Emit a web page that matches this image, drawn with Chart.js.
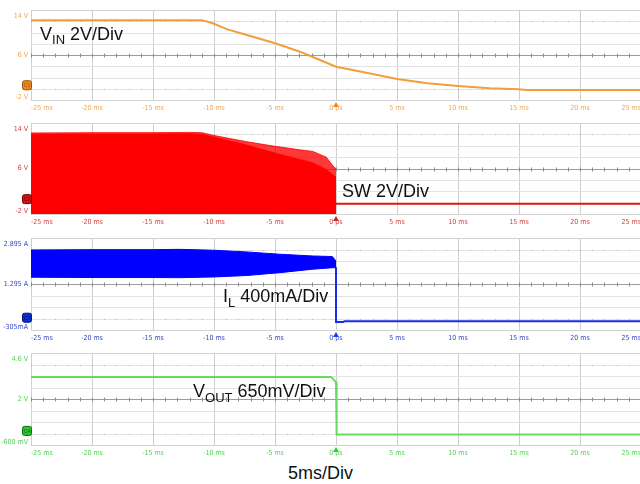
<!DOCTYPE html>
<html>
<head>
<meta charset="utf-8">
<script src="https://cdn.jsdelivr.net/npm/chart.js@4.4.1/dist/chart.umd.min.js"></script>
<style>
  html, body { margin: 0; padding: 0; background: #fff; }
  body { position: relative; width: 640px; height: 484px; overflow: hidden; }
  canvas { position: absolute; left: 0; }
  .lbl { position: absolute; font-family: 'Liberation Sans', Arial, sans-serif; font-size: 18px; line-height: 18px; color: #111; white-space: nowrap; }
  .lbl .s { font-size: 13px; vertical-align: -4px; }
</style>
</head>
<body>
<canvas id="ch1" width="650" height="114"></canvas>
<canvas id="ch2" width="650" height="115"></canvas>
<canvas id="ch3" width="650" height="116"></canvas>
<canvas id="ch4" width="650" height="116"></canvas>

<div class="lbl" style="left:40px;top:25px">V<span class="s">IN</span> 2V/Div</div>
<div class="lbl" style="left:342px;top:182px">SW 2V/Div</div>
<div class="lbl" style="left:223px;top:287px">I<span class="s" style="vertical-align:-5px">L</span> 400mA/Div</div>
<div class="lbl" style="left:193px;top:382px">V<span class="s" style="vertical-align:-5px">OUT</span> 650mV/Div</div>
<div class="lbl" style="left:288px;top:464px">5ms/Div</div>

<script>
// Time base: 5 ms/div, 10 divisions, trigger at 0
const timeTicks = ['-25 ms', '-20 ms', '-15 ms', '-10 ms', '-5 ms', '0 ps', '5 ms', '10 ms', '15 ms', '20 ms', '25 ms'];

// CH1: input voltage (V)
const vinTime  = [-25, -11.0, -10.1, -8.9, -7.3, -5.0, -2.95, -2.1, 0, 2.5, 5, 7.5, 10, 12.6, 15, 15.6, 25];
const vinVolts = [12.2, 12.2, 11.65, 10.55, 9.56, 8.08, 6.59, 5.82, 3.92, 2.85, 1.73, 0.97, 0.49, 0.08, -0.1, -0.2, -0.2];
const vinAxis  = ['14 V', '6 V', '-2 V'];

// CH2: switch node (V) - peak and dense envelopes while switching, then idle level
const swTime   = [-25, -20, -15, -12, -11, -10, -7.3, -5, -3, -1.9, -0.8, -0.15, 0];
const swPeak   = [12.25, 12.3, 12.3, 12.35, 12.3, 11.8, 10.7, 9.9, 9.3, 9.0, 8.0, 6.2, 6.0];
const swBody   = [12.0, 12.05, 12.05, 12.1, 12.0, 11.5, 10.1, 8.7, 7.6, 7.0, 5.8, 4.7, 4.5];
const swIdleTime  = [0, 25];
const swIdleVolts = [-0.2, -0.2];
const swAxis   = ['14 V', '6 V', '-2 V'];

// CH3: inductor current (A) - ripple band, then zero after shutdown
const ilTime   = [-25, -20, -15, -12.8, -10, -7.3, -4.6, -1.9, -0.3, -0.1, 0];
const ilHigh   = [2.48, 2.49, 2.49, 2.50, 2.47, 2.41, 2.33, 2.27, 2.25, 2.15, 2.08];
const ilLow    = [1.53, 1.52, 1.52, 1.515, 1.54, 1.59, 1.69, 1.81, 1.86, 1.86, 1.88];
const ilOffTime = [0, 0, 0.6, 0.7, 25];
const ilOffAmps = [1.88, -0.03, -0.03, 0.0, 0.0];
const ilAxis   = ['2.895 A', '1.295 A', '-305mA'];

// CH4: output voltage (V)
const voutTime  = [-25, -0.4, 0, 0.05, 25];
const voutVolts = [3.25, 3.25, 2.95, 0.0, 0.0];
const voutAxis  = ['4.6 V', '2 V', '-600 mV'];

const tickFont = { family: "'Liberation Sans Narrow', 'DejaVu Sans Condensed', 'Arial Narrow', sans-serif", size: 7 };

const pts = (xs, ys) => xs.map((x, i) => ({ x, y: ys[i] }));

// Oscilloscope graticule, ground marker and trigger marker
const graticule = {
  id: 'graticule',
  beforeDatasetsDraw(chart, args, opts) {
    const { ctx, chartArea: { left, top, right, bottom } } = chart;
    const w = right - left, h = bottom - top;
    ctx.save();
    ctx.lineWidth = 1;
    for (let j = 0; j <= 10; j++) {
      const x = Math.round(left + j * w / 10) + 0.5;
      ctx.strokeStyle = '#cfcfcf';
      ctx.beginPath(); ctx.moveTo(x, top); ctx.lineTo(x, bottom); ctx.stroke();
    }
    for (let i = 0; i <= 8; i++) {
      const y = Math.round(top + i * h / 8) + 0.5;
      ctx.strokeStyle = i === 4 ? '#9c9c9c' : (i === 0 || i === 8 ? '#d2d2d2' : '#e3e3e3');
      ctx.beginPath(); ctx.moveTo(left, y); ctx.lineTo(right, y); ctx.stroke();
      if (i === 1 || i === 7) {
        ctx.fillStyle = '#b4b4b4';
        for (let k = 0; k <= 50; k++) {
          const x = Math.round(left + k * w / 50);
          ctx.fillRect(x, y - 0.5, 1, 1);
        }
      }
    }
    const yc = Math.round(top + h / 2) + 0.5;
    ctx.strokeStyle = '#8a8a8a';
    for (let k = 0; k <= 50; k++) {
      const x = Math.round(left + k * w / 50) + 0.5;
      ctx.beginPath(); ctx.moveTo(x, yc - 2); ctx.lineTo(x, yc + 2); ctx.stroke();
    }
    ctx.restore();
  },
  afterDraw(chart, args, opts) {
    const { ctx, chartArea: { left, bottom } } = chart;
    const yz = chart.scales.y.getPixelForValue(0) - 3.5;
    ctx.save();
    // ground reference tag
    const bx = left - 8.5, by = yz - 4.5;
    ctx.fillStyle = opts.tagColor;
    ctx.strokeStyle = opts.tagEdge;
    ctx.lineWidth = 1;
    ctx.beginPath();
    ctx.roundRect(bx, by, 9, 9, 2);
    ctx.fill(); ctx.stroke();
    ctx.fillStyle = opts.tagEdge;
    ctx.font = "5px 'Liberation Sans Narrow', sans-serif";
    ctx.textAlign = 'center'; ctx.textBaseline = 'middle';
    ctx.fillText(opts.tag, bx + 4.5, by + 5);
    // trigger position marker
    const xt = chart.scales.x.getPixelForValue(0);
    ctx.fillStyle = opts.trigColor;
    ctx.beginPath();
    ctx.moveTo(xt, bottom + 2); ctx.lineTo(xt - 3, bottom + 7); ctx.lineTo(xt + 3, bottom + 7);
    ctx.closePath(); ctx.fill();
    ctx.restore();
  }
};

function makeScope(id, top, bottom, cfg) {
  const canvas = document.getElementById(id);
  canvas.style.top = (top - 8) + 'px';
  canvas.height = (bottom - top) + 8 + 16;
  const span = cfg.max - cfg.min;
  return new Chart(canvas, {
    type: 'line',
    data: { datasets: cfg.datasets },
    options: {
      responsive: false,
      animation: false,
      devicePixelRatio: 1,
      layout: { padding: { left: 0, top: 8, right: 9, bottom: 0 } },
      elements: { point: { radius: 0 }, line: { tension: 0 } },
      plugins: {
        legend: { display: false },
        tooltip: { enabled: false },
        graticule: cfg.marker
      },
      scales: {
        x: {
          type: 'linear', min: -25, max: 25,
          grid: { display: false, drawTicks: false },
          border: { display: false },
          ticks: {
            stepSize: 5, autoSkip: false, maxRotation: 0, align: 'inner', padding: 4,
            color: cfg.color, font: tickFont,
            callback: (v) => timeTicks[Math.round((v + 25) / 5)]
          },
          afterFit: (s) => { s.height = 16; }
        },
        y: {
          min: cfg.min, max: cfg.max,
          grid: { display: false, drawTicks: false },
          border: { display: false },
          afterBuildTicks: (s) => {
            s.ticks = [
              { value: cfg.min + span * 3 / 91 },
              { value: (cfg.min + cfg.max) / 2 },
              { value: cfg.max - span * 6 / 91 }
            ];
          },
          ticks: {
            padding: 3, color: cfg.color, font: tickFont,
            callback: (v, i) => cfg.axis[2 - i]
          },
          afterFit: (s) => { s.width = 31; }
        }
      }
    },
    plugins: [graticule]
  });
}

makeScope('ch1', 10, 100, {
  min: -2, max: 14, axis: vinAxis, color: '#f2a452',
  marker: { tag: 'C1', tagColor: '#ec8a1e', tagEdge: '#9a5200', trigColor: '#f08a1e' },
  datasets: [
    { data: pts(vinTime, vinVolts), borderColor: '#f29e3a', borderWidth: 2, fill: false }
  ]
});

makeScope('ch2', 123, 214, {
  min: -2, max: 14, axis: swAxis, color: '#d83a3a',
  marker: { tag: 'C2', tagColor: '#d01212', tagEdge: '#7a0000', trigColor: '#e02020' },
  datasets: [
    { data: pts(swTime, swBody), borderColor: '#ff0000', borderWidth: 1, backgroundColor: '#ff0000', fill: 'start' },
    { data: pts(swTime, swPeak), borderColor: 'rgba(255,0,0,0.8)', borderWidth: 1, backgroundColor: 'rgba(255,0,0,0.78)', fill: 'start' },
    { data: pts(swIdleTime, swIdleVolts), borderColor: '#e81010', borderWidth: 2, fill: false }
  ]
});

makeScope('ch3', 238, 330, {
  min: -0.305, max: 2.895, axis: ilAxis, color: '#3446c4',
  marker: { tag: 'C3', tagColor: '#0a2fd0', tagEdge: '#001470', trigColor: '#2040e0' },
  datasets: [
    { data: pts(ilTime, ilHigh), borderColor: '#0000ff', borderWidth: 1, backgroundColor: '#0000ff', fill: '+1' },
    { data: pts(ilTime, ilLow), borderColor: '#0000ff', borderWidth: 1, fill: false },
    { data: pts(ilOffTime, ilOffAmps), borderColor: '#1a2ee8', borderWidth: 2, fill: false }
  ]
});

makeScope('ch4', 353, 445, {
  min: -0.6, max: 4.6, axis: voutAxis, color: '#52d052',
  marker: { tag: 'C4', tagColor: '#2ec42e', tagEdge: '#0e6a0e', trigColor: '#30d030' },
  datasets: [
    { data: pts(voutTime, voutVolts), borderColor: '#66dd5a', borderWidth: 2, fill: false }
  ]
});
</script>
</body>
</html>
